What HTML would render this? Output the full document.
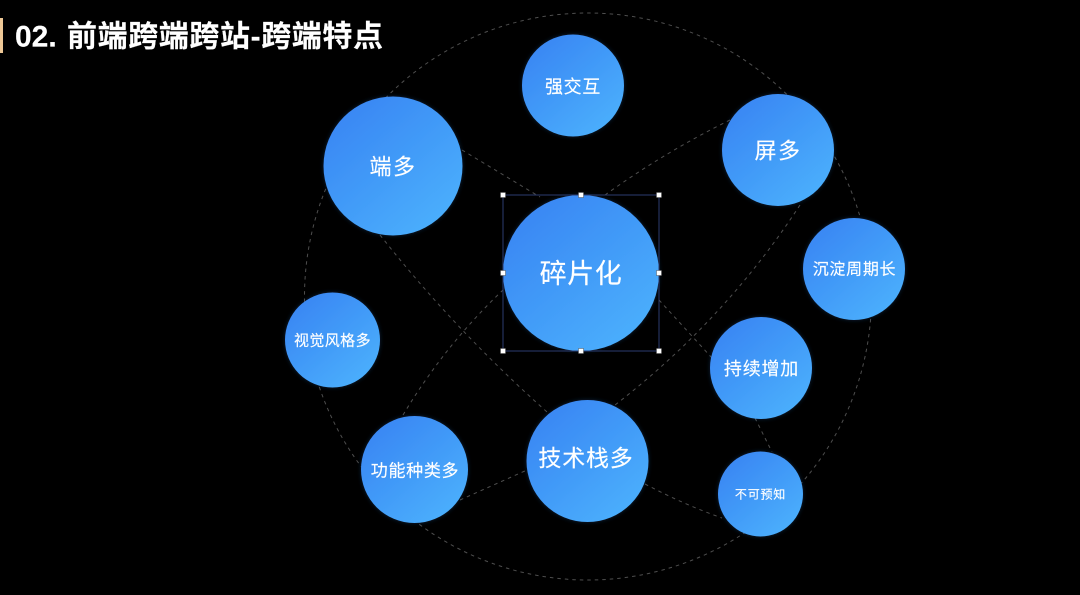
<!DOCTYPE html>
<html><head><meta charset="utf-8"><style>
html,body{margin:0;padding:0;background:#000;width:1080px;height:595px;overflow:hidden}
svg{display:block}
text{font-family:"Liberation Sans","Noto Sans CJK SC",sans-serif;fill:#fff;text-anchor:middle;dominant-baseline:central;stroke:#fff;stroke-width:.15px}
.d{fill:none;stroke:#4e4e4e;stroke-width:1;stroke-dasharray:3.5 4}
.n{fill:url(#g);filter:url(#s)}
.h{fill:#fff;stroke:#555;stroke-width:.5}
</style></head><body>
<svg width="1080" height="595" viewBox="0 0 1080 595" xmlns="http://www.w3.org/2000/svg">
<defs>
<linearGradient id="g" x1="0.2" y1="0.12" x2="0.85" y2="0.88"><stop offset="0" stop-color="#3a89f4"/><stop offset="1" stop-color="#4aaefc"/></linearGradient>
<filter id="s" x="-10%" y="-10%" width="120%" height="120%"><feDropShadow dx="0" dy="0" stdDeviation="2" flood-color="#2d6fc4" flood-opacity=".3"/></filter>
</defs>
<rect width="1080" height="595" fill="#000"/>
<rect x="0" y="18" width="3" height="35" fill="#edc796"/>
<text x="15" y="37" style="text-anchor:start;font-size:30px;font-weight:700">02.</text>
<text x="67" y="37" style="text-anchor:start;font-size:30px;font-weight:700;letter-spacing:.6px">前端跨端跨站-跨端特点</text>

<circle class="d" cx="588" cy="296.500" r="283.500"/>
<path class="d" d="M462 150L540 197"/>
<path class="d" d="M730 120Q665 152 605 195"/>
<path class="d" d="M800 205Q725 320 615 405"/>
<path class="d" d="M380 235Q455 330 547 412"/>
<path class="d" d="M403 415Q445 345 503 290"/>
<path class="d" d="M659 300L712 358"/>
<path class="d" d="M755 418L772 452"/>
<path class="d" d="M460 500L527 470"/>
<path class="d" d="M645 484Q685 505 722 518"/>

<circle class="n" cx="573" cy="85.500" r="51"/>
<circle class="n" cx="393" cy="166" r="69.500"/>
<circle class="n" cx="778" cy="150" r="56"/>
<circle class="n" cx="854" cy="269" r="51"/>
<circle class="n" cx="761" cy="368" r="51"/>
<circle class="n" cx="332.500" cy="340" r="47.500"/>
<circle class="n" cx="414.500" cy="469.500" r="53.500"/>
<circle class="n" cx="587.500" cy="461" r="61"/>
<circle class="n" cx="760.500" cy="494" r="42.500"/>
<circle class="n" cx="581" cy="273" r="78"/>

<rect x="503" y="195" width="156" height="156" fill="none" stroke="#2c3c70" stroke-width="1"/>
<rect class="h" x="500.500" y="192.500" width="5" height="5"/><rect class="h" x="578.500" y="192.500" width="5" height="5"/><rect class="h" x="656.500" y="192.500" width="5" height="5"/>
<rect class="h" x="500.500" y="270.500" width="5" height="5"/><rect class="h" x="656.500" y="270.500" width="5" height="5"/>
<rect class="h" x="500.500" y="348.500" width="5" height="5"/><rect class="h" x="578.500" y="348.500" width="5" height="5"/><rect class="h" x="656.500" y="348.500" width="5" height="5"/>

<text x="573" y="87" style="font-size:18px;letter-spacing:.7px">强交互</text>
<text x="393" y="167" style="font-size:22px;letter-spacing:1.500px">端多</text>
<text x="778" y="151" style="font-size:22px;letter-spacing:1.500px">屏多</text>
<text x="854.500" y="270" style="font-size:16px;letter-spacing:.7px">沉淀周期长</text>
<text x="761.500" y="369" style="font-size:18px;letter-spacing:.8px">持续增加</text>
<text x="332.500" y="341" style="font-size:15px;letter-spacing:.4px">视觉风格多</text>
<text x="415" y="471" style="font-size:17px;letter-spacing:.7px">功能种类多</text>
<text x="586" y="458" style="font-size:23px;letter-spacing:.8px">技术栈多</text>
<text x="760.500" y="494.500" style="font-size:12px;letter-spacing:.8px">不可预知</text>
<text x="581" y="274" style="font-size:27px;letter-spacing:.6px">碎片化</text>
</svg>
</body></html>
